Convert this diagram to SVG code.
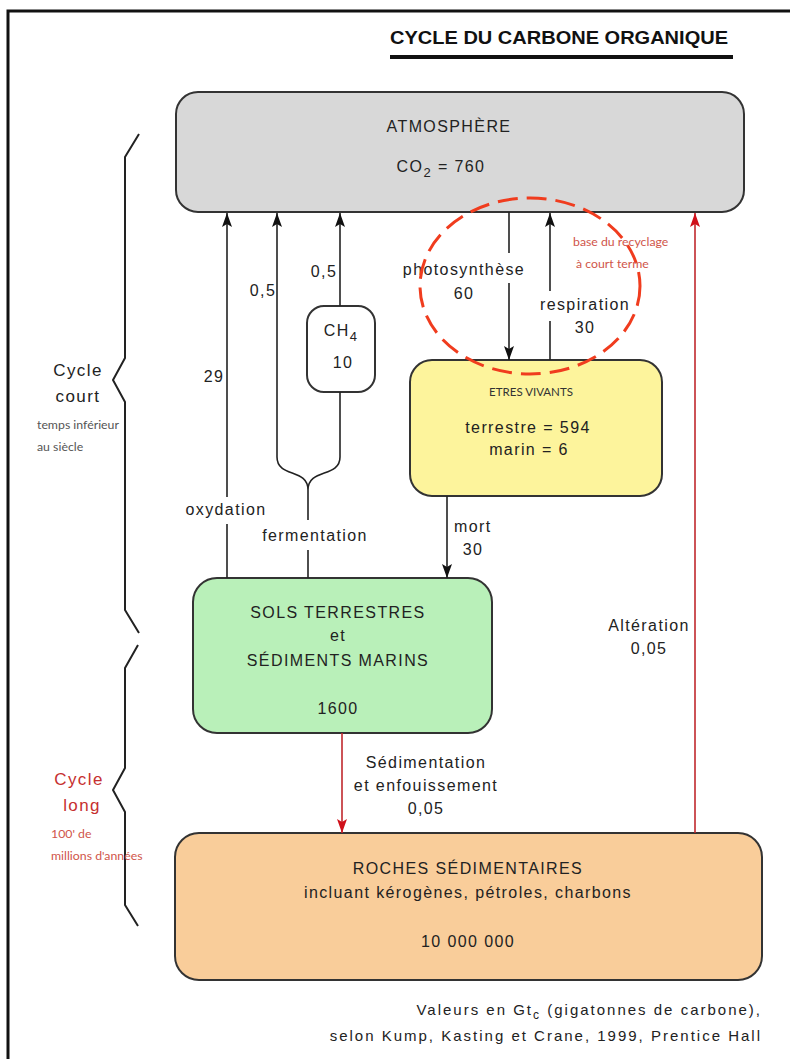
<svg xmlns="http://www.w3.org/2000/svg" width="790" height="1059" viewBox="0 0 790 1059">
<style>
.t{font-family:"Liberation Sans",Arial,sans-serif;font-size:16px;fill:#222;letter-spacing:1.4px}
.c{text-anchor:middle}
.box{stroke:#333;stroke-width:2}
.ln{stroke:#222;stroke-width:1.6;fill:none}
.rl{stroke:#c0282d;stroke-width:1.6;fill:none}
.cal{font-family:Lato,"Open Sans",sans-serif}
.brace{stroke:#222;stroke-width:2;fill:none;stroke-linejoin:round}
.red{fill:#c62f2f}
.ft{font-size:15px;letter-spacing:2px}
.big{font-size:17px}
</style>
<defs>
<marker id="ah" viewBox="0 0 14 10" refX="14" refY="5" markerWidth="14" markerHeight="10" orient="auto" markerUnits="userSpaceOnUse"><path d="M0,0 L14,5 L0,10 L3,5 z" fill="#111"/></marker>
<marker id="ahr" viewBox="0 0 14 10" refX="14" refY="5" markerWidth="14" markerHeight="10" orient="auto" markerUnits="userSpaceOnUse"><path d="M0,0 L14,5 L0,10 L3,5 z" fill="#d0101a"/></marker>
</defs>
<rect width="790" height="1059" fill="#fff"/>
<path d="M8,1059 V11 H790" fill="none" stroke="#111" stroke-width="3"/>
<g id="title">
<text x="390" y="44" font-family="Liberation Sans,Arial,sans-serif" font-weight="bold" font-size="19" fill="#111" textLength="338" lengthAdjust="spacingAndGlyphs">CYCLE DU CARBONE ORGANIQUE</text>
<rect x="390" y="55" width="343" height="4" fill="#111"/>
</g>
<g id="atmosphere">
<rect class="box" x="176" y="92" width="568" height="120" rx="22" fill="#d8d8d8"/>
<text class="t c" x="449" y="132">ATMOSPHÈRE</text>
<text class="t c" x="441" y="172">CO<tspan style="font-size:13px" dy="5">2</tspan><tspan dy="-5"> = 760</tspan></text>
</g>
<g id="ch4">
<rect class="box" x="307" y="306" width="68" height="86" rx="17" fill="#fff" stroke-width="1.6"/>
<text class="t c" x="341" y="336">CH<tspan style="font-size:13px" dy="5">4</tspan></text>
<text class="t c" x="343" y="368">10</text>
</g>
<g id="etres-vivants">
<rect class="box" x="410" y="360" width="252" height="136" rx="22" fill="#fdf49c"/>
<text class="cal c" x="531" y="396" font-size="11.5" fill="#333">ETRES VIVANTS</text>
<text class="t c" x="528" y="433">terrestre = 594</text>
<text class="t c" x="529" y="455">marin = 6</text>
</g>
<g id="sols">
<rect class="box" x="193" y="578" width="299" height="155" rx="24" fill="#b9f0b9"/>
<text class="t c" x="338" y="618">SOLS TERRESTRES</text>
<text class="t c" x="338" y="641">et</text>
<text class="t c" x="338" y="666">SÉDIMENTS MARINS</text>
<text class="t c" x="338" y="714">1600</text>
</g>
<g id="roches">
<rect class="box" x="175" y="833" width="587" height="147" rx="24" fill="#f9cd9a"/>
<text class="t c" x="468" y="874">ROCHES SÉDIMENTAIRES</text>
<text class="t c" x="468" y="898">incluant kérogènes, pétroles, charbons</text>
<text class="t c" x="468" y="947">10 000 000</text>
</g>
<g id="connectors">
<line class="ln" x1="227" y1="578" x2="227" y2="524"/>
<line class="ln" x1="227" y1="497" x2="227" y2="213" marker-end="url(#ah)"/>
<line class="ln" x1="277" y1="457" x2="277" y2="213" marker-end="url(#ah)"/>
<line class="ln" x1="340" y1="306" x2="340" y2="213" marker-end="url(#ah)"/>
<line class="ln" x1="340" y1="392" x2="340" y2="457"/>
<path class="ln" d="M277,457 C277,478 308,468 308,490 M340,457 C340,478 308,468 308,490 M308,490 V520 M308,550 V578"/>
<line class="ln" x1="509" y1="212" x2="509" y2="253"/>
<line class="ln" x1="509" y1="283" x2="509" y2="360" marker-end="url(#ah)"/>
<line class="ln" x1="550" y1="360" x2="550" y2="321"/>
<line class="ln" x1="550" y1="291" x2="550" y2="213" marker-end="url(#ah)"/>
<line class="ln" x1="447" y1="496" x2="447" y2="578" marker-end="url(#ah)"/>
<line class="rl" x1="342" y1="733" x2="342" y2="833" marker-end="url(#ahr)"/>
<line class="rl" x1="695" y1="833" x2="695" y2="213" marker-end="url(#ahr)"/>
</g>
<g id="labels">
<text class="t c" x="214" y="382">29</text>
<text class="t c" x="263" y="296">0,5</text>
<text class="t c" x="324" y="277">0,5</text>
<text class="t c" x="226" y="515">oxydation</text>
<text class="t c" x="315" y="541">fermentation</text>
<text class="t c" x="464" y="275">photosynthèse</text>
<text class="t c" x="464" y="299">60</text>
<text class="t c" x="585" y="310">respiration</text>
<text class="t c" x="585" y="333">30</text>
<text class="t" x="454" y="532">mort</text>
<text class="t c" x="473" y="555">30</text>
<text class="t c" x="426" y="768">Sédimentation</text>
<text class="t c" x="426" y="791">et enfouissement</text>
<text class="t c" x="426" y="814">0,05</text>
<text class="t c" x="649" y="631">Altération</text>
<text class="t c" x="649" y="654">0,05</text>
</g>
<g id="recyclage">
<ellipse cx="530" cy="286" rx="110" ry="88" fill="none" stroke="#f03c1e" stroke-width="3" stroke-dasharray="20 9"/>
<text class="cal" x="573" y="246" font-size="12.3" fill="#d0554a">base du recyclage</text>
<text class="cal" x="576" y="268" font-size="12.3" fill="#d0554a">à court terme</text>
</g>
<g id="cycle-court">
<path class="brace" d="M139,134 L125,157 V358 L113,380 L125,402 V610 L139,633"/>
<text class="t c big" x="78" y="376">Cycle</text>
<text class="t c big" x="78" y="402">court</text>
<text class="cal" x="37" y="429" font-size="12.3" fill="#555">temps inférieur</text>
<text class="cal" x="37" y="451" font-size="12.3" fill="#555">au siècle</text>
</g>
<g id="cycle-long">
<path class="brace" d="M138,645 L125,668 V768 L113,790 L125,812 V905 L138,926"/>
<text class="t c big red" x="79" y="785">Cycle</text>
<text class="t c big red" x="82" y="811">long</text>
<text class="cal" x="51" y="838" font-size="12.3" fill="#d0554a">100' de</text>
<text class="cal" x="51" y="860" font-size="12.3" fill="#d0554a">millions d'années</text>
</g>
<g id="footer">
<text class="t ft" x="762" y="1015" text-anchor="end">Valeurs en Gt<tspan style="font-size:12px" dy="4">c</tspan><tspan dy="-4"> (gigatonnes de carbone),</tspan></text>
<text class="t ft" x="762" y="1041" text-anchor="end">selon Kump, Kasting et Crane, 1999, Prentice Hall</text>
</g>
</svg>
